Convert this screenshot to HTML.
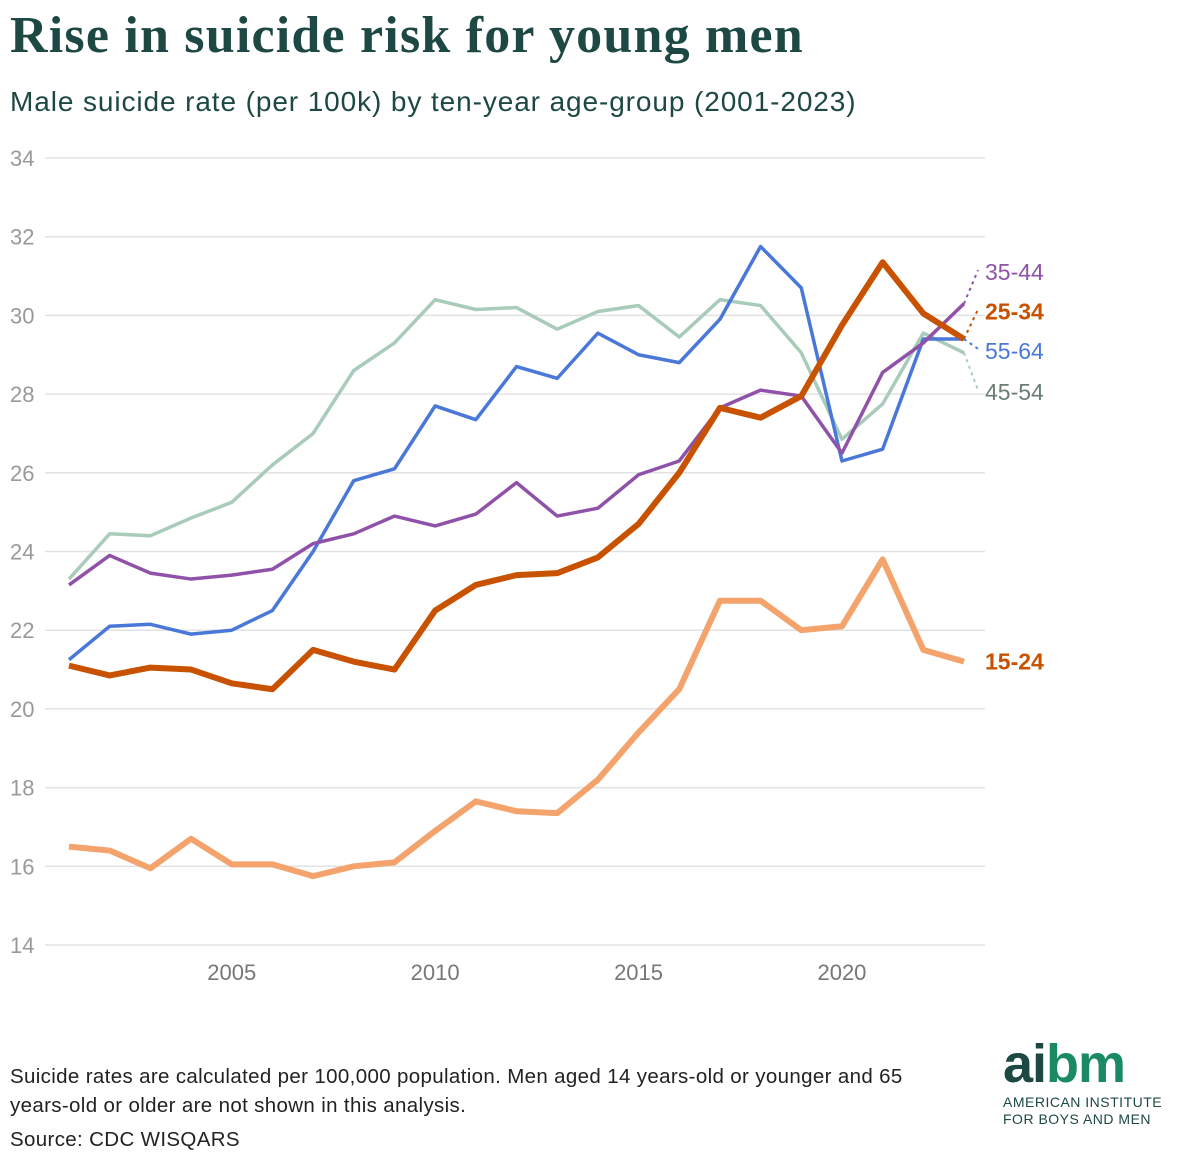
<!DOCTYPE html>
<html><head><meta charset="utf-8"><style>
body{margin:0;background:#fff;width:1200px;height:1167px;overflow:hidden;font-family:"Liberation Sans",sans-serif;}
#title{position:absolute;left:10px;top:6px;font-family:"Liberation Serif",serif;font-weight:bold;font-size:52px;letter-spacing:1.2px;color:#1d4843;}
#sub{position:absolute;left:10px;top:86px;font-size:28px;letter-spacing:0.9px;color:#1d4843;}
#note{position:absolute;left:10px;top:1062px;font-size:20.5px;letter-spacing:0.35px;line-height:29px;color:#222;width:950px;}
#src{position:absolute;left:10px;top:1128px;font-size:20.5px;letter-spacing:0.35px;color:#222;}
#logo{position:absolute;left:1003px;top:1040px;}
</style></head><body>
<div id="title">Rise in suicide risk for young men</div>
<div id="sub">Male suicide rate (per 100k) by ten-year age-group (2001-2023)</div>
<svg id="chart" width="1200" height="1167" style="position:absolute;left:0;top:0"></svg>
<div id="note">Suicide rates are calculated per 100,000 population. Men aged 14 years-old or younger and 65 years-old or older are not shown in this analysis.</div>
<div id="src">Source: CDC WISQARS</div>
<div id="logo">
<div style="font-size:54px;font-weight:bold;line-height:48px;letter-spacing:-1px"><span style="color:#1d4843">ai</span><span style="color:#1a8a63">bm</span></div>
<div style="font-size:14px;color:#1d4843;line-height:17px;margin-top:6px;letter-spacing:0.5px">AMERICAN INSTITUTE<br>FOR BOYS AND MEN</div>
</div>
<script>
const years=[2001,2002,2003,2004,2005,2006,2007,2008,2009,2010,2011,2012,2013,2014,2015,2016,2017,2018,2019,2020,2021,2022,2023];
const yTicks=[14,16,18,20,22,24,26,28,30,32,34];
const xTicks=[2005,2010,2015,2020];
const s45_54=[23.3,24.45,24.4,24.85,25.25,26.2,27.0,28.6,29.3,30.4,30.15,30.2,29.65,30.1,30.25,29.45,30.4,30.25,29.05,26.85,27.75,29.55,29.05];
const s55_64=[21.25,22.1,22.15,21.9,22.0,22.5,24.0,25.8,26.1,27.7,27.35,28.7,28.4,29.55,29.0,28.8,29.9,31.75,30.7,26.3,26.6,29.4,29.4];
const s35_44=[23.15,23.9,23.45,23.3,23.4,23.55,24.2,24.45,24.9,24.65,24.95,25.75,24.9,25.1,25.95,26.3,27.65,28.1,27.95,26.5,28.55,29.3,30.3];
const s25_34=[21.1,20.85,21.05,21.0,20.65,20.5,21.5,21.2,21.0,22.5,23.15,23.4,23.45,23.85,24.7,26.0,27.65,27.4,27.95,29.75,31.35,30.05,29.4];
const s15_24=[16.5,16.4,15.95,16.7,16.05,16.05,15.75,16.0,16.1,16.9,17.65,17.4,17.35,18.2,19.4,20.5,22.75,22.75,22.0,22.1,23.8,21.5,21.2];
const labelVals=[31.1,30.1,29.1,28.05];
const NS="http://www.w3.org/2000/svg";
const svg=document.getElementById('chart');
const X=y=>69+(y-2001)*(964-69)/22;
const Y=v=>945-(v-14)*(945-158)/20;
function mk(t,a){const e=document.createElementNS(NS,t);for(const k in a)e.setAttribute(k,a[k]);svg.appendChild(e);return e;}
yTicks.forEach(t=>{
 const l=mk('line',{x1:45,x2:985,y1:Y(t),y2:Y(t),stroke:'#e2e2e2','stroke-width':1.5});
 
 
 const tx=mk('text',{x:10,y:Y(t)+8,'font-size':22,fill:'#999','font-family':'Liberation Sans'});tx.textContent=t;
 
 
});
xTicks.forEach(t=>{
 const tx=mk('text',{x:X(t),y:980,'font-size':22,fill:'#777','text-anchor':'middle','font-family':'Liberation Sans'});tx.textContent=t;
 
 
});
const series=[[s45_54,'#a9cbb9',3.5,'45-54'],[s55_64,'#4a78d8',3.5,'55-64'],[s35_44,'#8f52a8',3.5,'35-44'],[s25_34,'#c85200',6,'25-34'],[s15_24,'#f3a36b',6,'15-24']];
series.forEach(([d,c,w,n])=>{
 const p=mk('polyline',{points:d.map((v,i)=>X(years[i])+','+Y(v)).join(' '),fill:'none',stroke:c,'stroke-width':w,'stroke-linejoin':'round'});
 
 
});
const labs=[['35-44','#8f52a8',s35_44,labelVals[0],false],['25-34','#c85200',s25_34,labelVals[1],true],['55-64','#4a78d8',s55_64,labelVals[2],false],['45-54','#6b7d72',s45_54,labelVals[3],false]];
labs.forEach(([n,c,d,lv,b])=>{
 const ex=X(2023),ey=Y(d[22]);
 const l=mk('line',{x1:ex,y1:ey,x2:978,y2:Y(lv)-2,stroke:n==='45-54'?'#a9cbb9':c,'stroke-width':2,'stroke-dasharray':'3,4'});
 
 
 const t=mk('text',{x:985,y:Y(lv)+8,'font-size':23,fill:c,'font-weight':b?'bold':'normal','font-family':'Liberation Sans'});t.textContent=n;
 
 
});
const t5=mk('text',{x:985,y:Y(s15_24[22])+8,'font-size':23,fill:'#c85200','font-weight':'bold','font-family':'Liberation Sans'});t5.textContent='15-24';


</script>
</body></html>
